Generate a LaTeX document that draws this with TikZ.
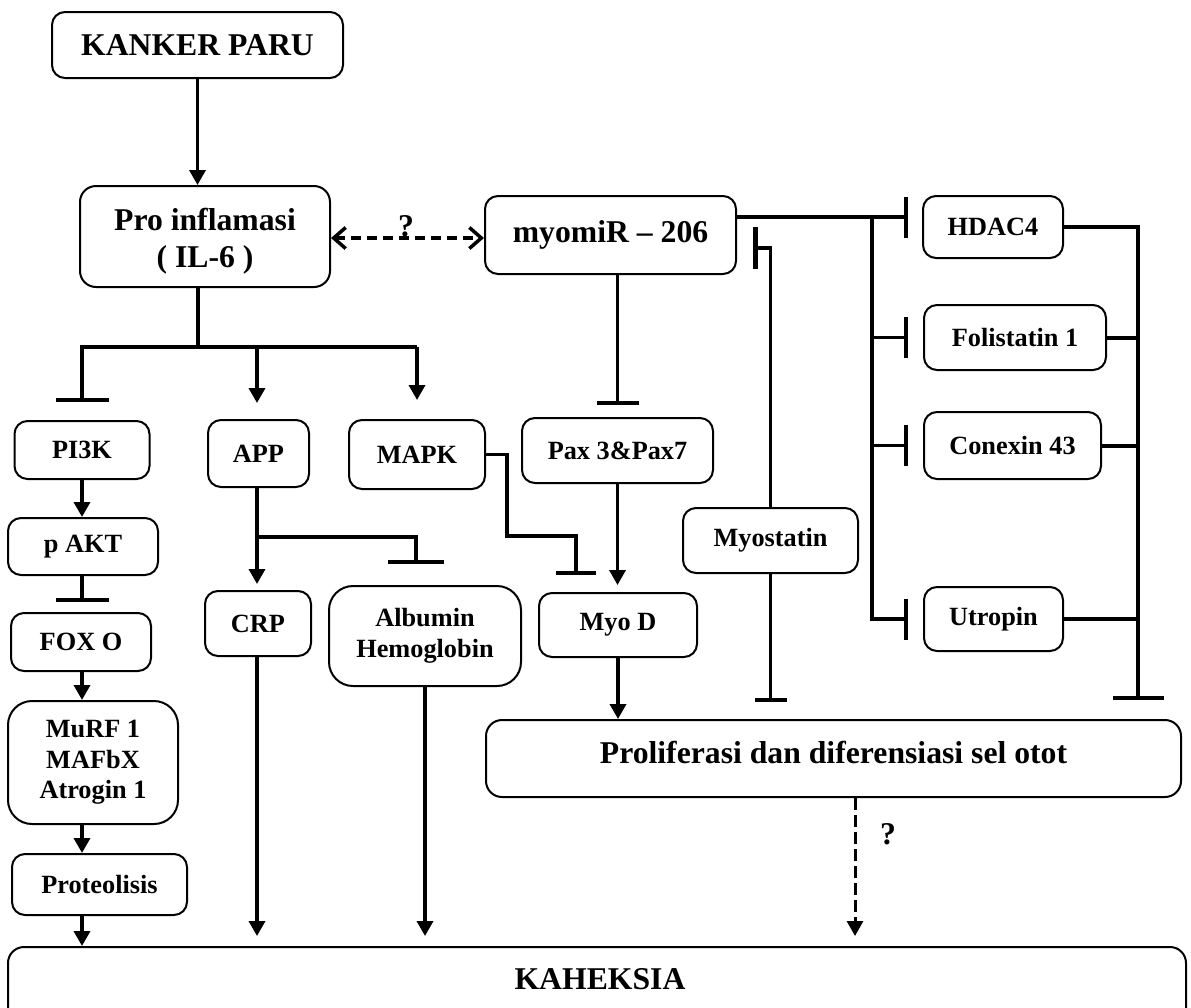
\documentclass[tikz,border=0pt]{standalone}
\usepackage{fontspec}
\setmainfont{Liberation Serif}
\usetikzlibrary{arrows.meta,calc}
\newcommand\bigtxt{\fontsize{31.7}{37}\selectfont\bfseries}
\newcommand\smalltxt{\fontsize{26.3}{30.5}\selectfont\bfseries}
\tikzset{
  box/.style={draw, line width=2pt, rounded corners=13pt, align=center, inner sep=0pt, font=\smalltxt},
  bigbox/.style={box, font=\bigtxt},
  ln/.style={line width=3.5pt},
  arr/.style={ln, -{Triangle[length=15pt,width=16pt]}},
  inh/.style={ln, -{Bar[width=#1,line width=4.5pt]}},
  dbl/.style={ln, dash pattern=on 10pt off 6pt, {Straight Barb[length=12pt,width=21pt,line width=3.5pt]}-{Straight Barb[length=12pt,width=21pt,line width=3.5pt]}},
  darr/.style={line width=3pt, dash pattern=on 12pt off 5pt, -{Triangle[length=15pt,width=16pt]}},
  qlab/.style={font=\bigtxt, inner sep=0pt}
}
\begin{document}
\begin{tikzpicture}[x=1pt,y=-1pt]
\useasboundingbox (0,0) rectangle (1191,1007);
\clip (0,0) rectangle (1191,1007);

% nodes
\node[bigbox, minimum width=291pt, minimum height=66pt] (kp) at (197.5,45) {KANKER PARU};
\node[bigbox, minimum width=250pt, minimum height=101pt, rounded corners=16pt] (pro) at (205,236.5) {\raisebox{-5pt}[\height][\depth]{\begin{tabular}{@{}c@{}}Pro inflamasi\\( IL-6 )\end{tabular}}};
\node[bigbox, minimum width=251pt, minimum height=78pt] (myo) at (610.5,235) {myomiR – 206};
\node[box, minimum width=135pt, minimum height=58pt] (pi3k) at (82,450) {PI3K};
\node[box, minimum width=101pt, minimum height=67pt] (app) at (258.5,453.5) {APP};
\node[box, minimum width=136pt, minimum height=69pt] (mapk) at (417,454.5) {MAPK};
\node[box, minimum width=191pt, minimum height=65pt] (pax) at (617.5,450.5) {Pax 3\&Pax7};
\node[box, minimum width=150pt, minimum height=57pt] (pakt) at (83,546.5) {p AKT};
\node[box, minimum width=140pt, minimum height=58pt] (foxo) at (81,642) {FOX O};
\node[box, minimum width=170pt, minimum height=123pt, rounded corners=24pt] (murf) at (93,762.5) {MuRF 1\\MAFbX\\Atrogin 1};
\node[box, minimum width=175pt, minimum height=61pt] (prot) at (99.5,884.5) {Proteolisis};
\node[box, minimum width=106pt, minimum height=65pt] (crp) at (258,623.5) {CRP};
\node[box, minimum width=192pt, minimum height=100pt, rounded corners=24pt] (alb) at (425,636) {Albumin\\Hemoglobin};
\node[box, minimum width=158pt, minimum height=64pt] (myod) at (618,625) {Myo D};
\node[box, minimum width=175pt, minimum height=65pt] (mst) at (770.5,540.5) {Myostatin};
\node[box, minimum width=140pt, minimum height=62pt] (hdac) at (993,227) {HDAC4};
\node[box, minimum width=182pt, minimum height=65pt] (fol) at (1015,337.5) {Folistatin 1};
\node[box, minimum width=177pt, minimum height=67pt] (con) at (1012.5,445.5) {Conexin 43};
\node[box, minimum width=139pt, minimum height=64pt] (utr) at (993.5,619) {Utropin};
\node[bigbox, minimum width=695pt, minimum height=77pt, rounded corners=16pt, text depth=12pt] (prol) at (833.5,758.5) {Proliferasi dan diferensiasi sel otot};
\node[box, minimum width=1178pt, minimum height=140pt, rounded corners=16pt, anchor=north] (kah) at (597,946) {};
\node[font=\bigtxt, inner sep=0pt] (kahtxt) at (600,979.5) {KAHEKSIA};

% coordinates
\coordinate (pj) at (198,347);
\coordinate (dd) at (400,238);
\coordinate (aj) at (257,537);
\coordinate (ab) at (416,537);
\coordinate (mk1) at (507,454.5);
\coordinate (mk2) at (507,536);
\coordinate (mk3) at (576,536);
\coordinate (hy) at (872,217);
\coordinate (rx) at (1138,228);
\coordinate (mt) at (753,248);
\coordinate (dq) at (855,800);

% connectors
\draw[arr] (kp.south) -- (kp.south |- pro.north);
\draw[dbl] (pro.east |- dd) -- (myo.west |- dd);
\node[qlab, anchor=base] (q1) at (406,236) {?};

\draw[ln] (pj |- pro.south) -- (pj);
\draw[inh=53pt, shorten >=18pt] (mapk.north |- pj) -- (pi3k.north |- pj) -- (pi3k.north);
\draw[arr, shorten >=16pt] (aj |- pj) -- (aj |- app.north);
\draw[arr, shorten >=19pt] (mapk.north |- pj) -- (mapk.north);

\draw[arr] (pi3k.south) -- (pi3k.south |- pakt.north);
\draw[inh=53pt, shorten >=10pt] (pi3k.south |- pakt.south) -- (pi3k.south |- foxo.north);
\draw[arr] (pi3k.south |- foxo.south) -- (pi3k.south |- murf.north);
\draw[arr] (pi3k.south |- murf.south) -- (pi3k.south |- prot.north);
\draw[arr] (pi3k.south |- prot.south) -- (pi3k.south |- kah.north);

\draw[arr, shorten >=6pt] (aj |- app.south) -- (aj |- crp.north);
\draw[inh=56pt, shorten >=21pt] (aj) -- (ab) -- (ab |- alb.north);
\draw[arr, shorten >=10pt] (crp.south -| aj) -- (aj |- kah.north);
\draw[arr, shorten >=10pt] (alb.south) -- (alb.south |- kah.north);

\draw[inh=42pt, shorten >=12pt] (pax.north |- myo.south) -- (pax.north);
\draw[arr, shorten >=7pt] (pax.south) -- (pax.south |- myod.north);
\draw[inh=40pt, shorten >=17pt] (mapk.east) -- (mk1) -- (mk2) -- (mk3) -- (mk3 |- myod.north);
\draw[arr] (myod.south) -- (myod.south |- prol.north);

\draw[darr, shorten >=10pt] (dq |- prol.south) -- (dq |- kah.north);
\node[qlab] (q2) at (888,834) {?};

\draw[inh=41pt, shorten >=14pt] (myo.east |- hy) -- (hdac.west |- hy);
\draw[inh=41pt, shorten >=15pt] (hy) |- (utr.west);
\draw[inh=41pt, shorten >=15pt] (hy |- fol.west) -- (fol.west);
\draw[inh=41pt, shorten >=15pt] (hy |- con.west) -- (con.west);

\draw[inh=51pt, shorten >=19pt, line width=4pt] (hdac.east) -| (rx |- prol.north);
\draw[ln, line width=4pt] (fol.east) -- (fol.east -| rx);
\draw[ln, line width=4pt] (con.east) -- (con.east -| rx);
\draw[ln, line width=4pt] (utr.east) -- (utr.east -| rx);

\draw[inh=42pt] (mst.north) |- (mt);
\draw[inh=32pt, shorten >=17pt] (mst.south) -- (mst.south |- prol.north);
\end{tikzpicture}
\end{document}
